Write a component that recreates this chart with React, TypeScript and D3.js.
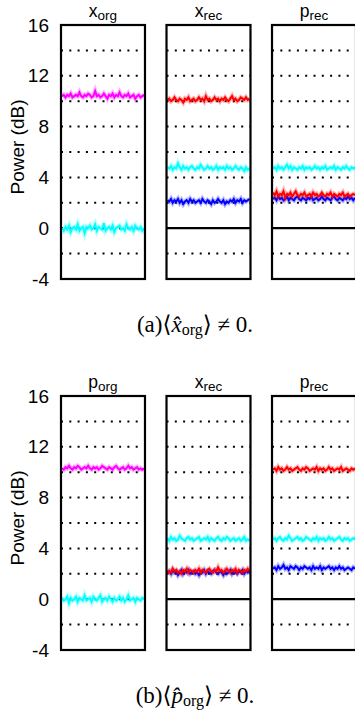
import React from "react";
import * as d3 from "d3";

// power traces (dB)
const aXorgMagenta = [10.4,10.5,10.3,10.5,10.4,10.6,10.3,10.4,10.5,10.4,10.7,10.4,10.3,10.5,10.4,10.6,10.5,10.3,10.4,10.8,10.4,10.5,10.3,10.4,10.6,10.4,10.2,10.5,10.4,10.6,10.3,10.5,10.4,10.7,10.4,10.3,10.5,10.4,10.6,10.3,10.4,10.5,10.2,10.4,10.5,10.3,10.4,10.5];
const aXorgCyan = [0.0,-0.2,0.1,-0.1,0.2,-0.3,0.0,0.1,-0.1,0.3,-0.2,0.0,0.1,-0.4,0.1,0.0,0.2,-0.1,0.0,0.3,-0.2,0.1,0.0,-0.1,0.4,-0.2,0.0,0.1,-0.1,0.2,-0.3,0.0,0.1,0.2,-0.1,0.0,-0.2,0.3,0.0,-0.1,0.1,-0.2,0.2,0.0,-0.1,0.1,-0.2,0.0];
const aXrecRed = [10.1,10.2,10.0,10.1,10.3,10.1,10.0,10.2,10.1,9.9,10.2,10.1,10.3,10.0,10.1,10.2,10.0,10.1,10.3,10.1,10.2,10.0,10.4,10.1,10.2,10.0,10.1,10.3,10.1,10.2,10.0,10.2,10.1,10.3,10.1,10.0,10.2,10.4,10.1,10.2,10.0,10.1,10.3,10.2,10.1,10.3,10.1,10.2];
const aXrecCyan = [4.8,4.7,4.9,4.6,4.8,4.7,5.1,4.8,4.6,4.9,4.7,4.8,4.6,4.8,4.9,4.7,4.6,4.8,4.7,5.0,4.8,4.6,4.7,4.9,4.7,4.8,4.6,4.7,4.9,4.6,4.8,4.7,4.8,4.6,4.9,4.7,4.8,4.6,4.7,4.9,4.7,4.6,4.8,4.7,4.5,4.8,4.6,4.7];
const aXrecBlue = [2.2,2.1,2.3,2.0,2.2,2.1,2.3,2.0,2.2,1.9,2.1,2.2,2.0,2.3,2.1,2.2,2.0,2.1,2.2,2.0,2.3,2.1,2.0,2.2,2.1,1.9,2.2,2.0,2.1,2.3,2.1,2.0,2.2,1.9,2.1,2.0,2.2,2.1,2.3,2.0,2.2,2.1,2.3,2.0,2.2,2.1,2.2,2.3];
const aPrecCyan = [4.7,4.8,4.6,4.9,4.7,4.8,4.6,4.8,5.0,4.7,4.9,4.6,4.8,4.7,4.6,4.8,4.7,4.9,4.6,4.8,4.7,4.8,4.6,4.7,4.9,4.7,4.8,4.6,4.8,4.7,4.9,4.6,4.7,4.8,4.7,4.9,4.6,4.8,4.7,4.6,4.8,4.7,4.9,4.7,4.6,4.8,4.7,4.8];
const aPrecBlue = [2.3,2.4,2.2,2.5,2.3,2.4,2.2,2.3,2.5,2.2,2.4,2.3,2.2,2.4,2.5,2.3,2.2,2.4,2.3,2.2,2.4,2.3,2.5,2.2,2.3,2.4,2.2,2.3,2.5,2.3,2.2,2.4,2.3,2.2,2.4,2.5,2.3,2.2,2.4,2.3,2.2,2.4,2.3,2.5,2.3,2.4,2.2,2.4];
const aPrecRed = [2.8,2.6,2.9,2.5,2.7,2.6,2.9,2.4,2.7,2.6,2.8,2.5,2.7,2.9,2.6,2.5,2.7,2.6,2.8,2.5,2.6,2.7,2.5,2.8,2.6,2.7,2.5,2.6,2.8,2.6,2.5,2.7,2.6,2.8,2.5,2.7,2.6,2.5,2.7,2.6,2.8,2.5,2.6,2.7,2.5,2.6,2.7,2.6];

const bPorgMagenta = [10.3,10.2,10.4,10.3,10.5,10.3,10.2,10.4,10.3,10.5,10.4,10.2,10.3,10.4,10.3,10.5,10.3,10.2,10.4,10.3,10.4,10.2,10.3,10.5,10.4,10.3,10.2,10.4,10.3,10.2,10.4,10.5,10.3,10.2,10.3,10.4,10.2,10.3,10.5,10.3,10.4,10.2,10.3,10.4,10.2,10.3,10.2,10.3];
const bPorgCyan = [0.1,-0.1,0.0,0.2,-0.3,0.1,-0.1,0.0,0.2,-0.2,0.1,0.0,-0.1,0.3,-0.1,0.0,0.1,-0.2,0.2,0.0,-0.1,0.1,0.3,-0.2,0.0,0.1,-0.1,0.2,0.0,-0.2,0.1,-0.1,0.0,0.2,-0.1,0.1,-0.2,0.0,0.3,-0.1,0.0,0.1,-0.2,0.1,0.0,-0.1,0.1,0.0];
const bXrecCyan = [4.8,4.6,4.9,4.7,4.8,4.6,4.7,5.0,4.8,4.7,4.6,4.8,4.9,4.7,4.8,4.6,4.7,4.8,4.9,4.6,4.7,4.8,4.7,4.9,4.6,4.8,4.7,4.6,4.8,4.9,4.7,4.6,4.8,4.7,4.9,4.8,4.6,4.7,4.8,4.6,4.7,4.8,4.6,4.7,4.9,4.6,4.7,4.6];
const bXrecBlue = [2.1,2.2,2.0,2.3,2.1,2.2,1.9,2.1,2.3,2.0,2.2,2.1,2.3,2.0,2.1,2.2,2.0,2.1,1.9,2.2,2.1,2.3,2.0,2.2,2.1,2.0,2.2,2.3,2.1,2.0,2.2,2.1,1.9,2.2,2.0,2.1,2.3,2.0,2.2,2.1,2.0,2.2,2.1,2.3,2.0,2.2,2.1,2.2];
const bXrecRed = [2.0,2.2,2.1,2.4,2.2,2.3,2.1,2.2,2.0,2.3,2.2,2.4,2.1,2.3,2.2,2.1,2.3,2.2,2.4,2.1,2.3,2.2,2.1,2.3,2.4,2.2,2.1,2.3,2.2,2.5,2.2,2.3,2.1,2.2,2.4,2.2,2.1,2.3,2.2,2.4,2.1,2.3,2.2,2.1,2.3,2.2,2.4,2.2];
const bPrecRed = [10.2,10.3,10.1,10.4,10.2,10.3,10.1,10.2,10.4,10.2,10.3,10.1,10.2,10.3,10.4,10.2,10.1,10.3,10.2,10.4,10.3,10.1,10.2,10.3,10.2,10.4,10.1,10.3,10.2,10.3,10.1,10.2,10.4,10.2,10.3,10.1,10.2,10.3,10.2,10.4,10.1,10.2,10.3,10.2,10.1,10.3,10.2,10.3];
const bPrecCyan = [4.7,4.8,4.6,4.8,4.9,4.7,4.6,4.8,4.7,5.0,4.8,4.6,4.7,4.8,4.9,4.7,4.8,4.6,4.7,4.9,4.8,4.7,4.6,4.8,4.7,4.9,4.6,4.8,4.7,4.8,4.6,4.7,4.9,4.7,4.8,4.6,4.7,4.8,4.9,4.7,4.6,4.8,4.7,4.8,4.6,4.7,4.8,4.7];
const bPrecBlue = [2.4,2.5,2.3,2.6,2.4,2.5,2.7,2.4,2.5,2.3,2.6,2.5,2.4,2.6,2.5,2.3,2.5,2.4,2.6,2.5,2.4,2.5,2.3,2.6,2.4,2.5,2.4,2.6,2.3,2.5,2.4,2.5,2.6,2.4,2.5,2.3,2.5,2.4,2.6,2.4,2.5,2.3,2.4,2.5,2.4,2.3,2.5,2.4];

const yTicks = [-4, 0, 4, 8, 12, 16];
const gridLevels = [-2, 0, 2, 4, 6, 8, 10, 12, 14];
const panelKeys = ["p1", "p2", "p3"];

const titlesA = [["x", "org"], ["x", "rec"], ["p", "rec"]];
const titlesB = [["p", "org"], ["x", "rec"], ["p", "rec"]];

type Trace = { values: number[]; color: string };

const tracesA: Trace[][] = [
  [{ values: aXorgMagenta, color: "#ff00ff" }, { values: aXorgCyan, color: "#00ffff" }],
  [{ values: aXrecRed, color: "#ff0000" }, { values: aXrecCyan, color: "#00ffff" }, { values: aXrecBlue, color: "#0000ff" }],
  [{ values: aPrecCyan, color: "#00ffff" }, { values: aPrecBlue, color: "#0000ff" }, { values: aPrecRed, color: "#ff0000" }],
];
const tracesB: Trace[][] = [
  [{ values: bPorgMagenta, color: "#ff00ff" }, { values: bPorgCyan, color: "#00ffff" }],
  [{ values: bXrecCyan, color: "#00ffff" }, { values: bXrecBlue, color: "#0000ff" }, { values: bXrecRed, color: "#ff0000" }],
  [{ values: bPrecRed, color: "#ff0000" }, { values: bPrecCyan, color: "#00ffff" }, { values: bPrecBlue, color: "#0000ff" }],
];

const sans = "'Liberation Sans', Arial, Helvetica, sans-serif";
const serif = "'Liberation Serif', 'DejaVu Serif', serif";

const plotH = 254;

const Figure = ({ top, titles, traces, label }: { top: number; titles: string[][]; traces: Trace[][]; label: string }) => {
  const y = d3.scaleLinear().domain([-4, 16]).range([top + plotH, top]);
  const px = d3.scaleBand().domain(panelKeys).range([61, 356]).paddingInner(0.204);
  const w = px.bandwidth();

  return (
    <g>
      {yTicks.map((t) => (
        <text key={t} x={49} y={y(t) + 6.5} textAnchor="end" fontSize={19} fontFamily={sans}>
          {t}
        </text>
      ))}
      <text
        transform={`translate(24,${top + plotH / 2 - 5}) rotate(-90)`}
        textAnchor="middle"
        fontSize={19}
        fontFamily={sans}
      >
        Power (dB)
      </text>

      {panelKeys.map((k, i) => {
        const x0 = px(k) as number;
        const x = d3.scaleLinear().domain([0, traces[i][0].values.length - 1]).range([x0 + 1, x0 + w - 1]);
        const line = d3
          .line<number>()
          .x((_, j) => x(j))
          .y((d) => y(d));
        return (
          <g key={k}>
            {gridLevels.map((g) =>
              g === 0 && i > 0 ? null : (
                <line
                  key={g}
                  x1={x0}
                  x2={x0 + w}
                  y1={y(g)}
                  y2={y(g)}
                  stroke="#000"
                  strokeWidth={2}
                  strokeDasharray="2 6.3"
                />
              )
            )}
            {i > 0 && <line x1={x0} x2={x0 + w} y1={y(0)} y2={y(0)} stroke="#000" strokeWidth={2.2} />}
            {traces[i].map((tr, j) => (
              <g key={j}>
                <path d={line(tr.values) || ""} fill="none" stroke={tr.color} strokeWidth={4.5} strokeOpacity={0.3} />
                <path d={line(tr.values) || ""} fill="none" stroke={tr.color} strokeWidth={2} />
              </g>
            ))}
            <rect x={x0} y={top} width={w} height={plotH} fill="none" stroke="#000" strokeWidth={2.2} />
            <text x={x0 + w / 2} y={top - 8.5} textAnchor="middle" fontSize={17.5} fontFamily={sans}>
              {titles[i][0]}
              <tspan fontSize={13.5} dy={3.5}>
                {titles[i][1]}
              </tspan>
            </text>
          </g>
        );
      })}

      <text x={195} y={top + 307} textAnchor="middle" fontSize={23} fontFamily={serif}>
        {label}⟨
        <tspan fontStyle="italic">{titles[0][0] + "\u0302"}</tspan>
        <tspan fontSize={16} dy={3}>
          org
        </tspan>
        <tspan dy={-3}>⟩ ≠ 0.</tspan>
      </text>
    </g>
  );
};

export default function App() {
  return (
    <svg width={355} height={711} style={{ position: "absolute", left: 0, top: 0, background: "#fff" }}>
      <Figure top={25} titles={titlesA} traces={tracesA} label="(a)" />
      <Figure top={396} titles={titlesB} traces={tracesB} label="(b)" />
    </svg>
  );
}
